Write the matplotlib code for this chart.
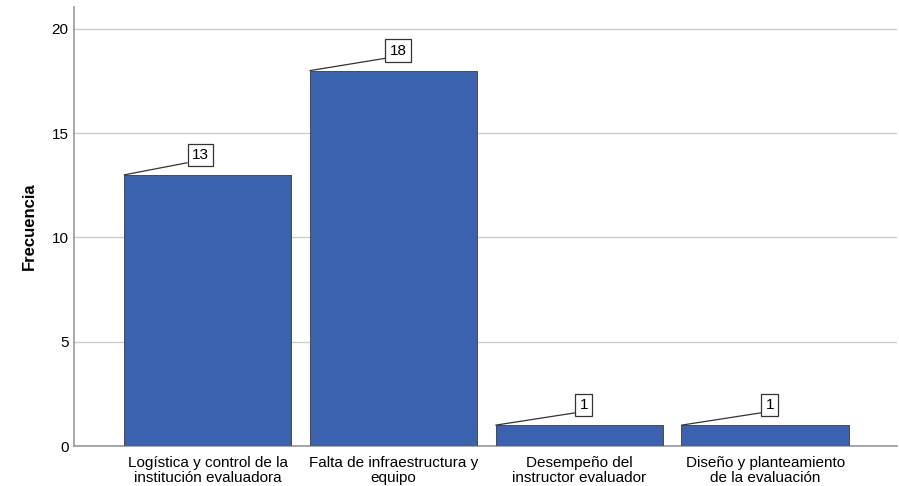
import numpy as np
import matplotlib.pyplot as plt

categorias = ['Logística y control de la\ninstitución evaluadora',
              'Falta de infraestructura y\nequipo',
              'Desempeño del\ninstructor evaluador',
              'Diseño y planteamiento\nde la evaluación']
frecuencias = [13, 18, 1, 1]
yticks = [0, 5, 10, 15, 20]

plt.rcParams['font.family'] = ['Liberation Sans', 'DejaVu Sans']

fig = plt.figure(figsize=(8.99, 4.86), dpi=100)
ax = fig.add_axes([74/899, 40/486, 823/899, 439/486])

x = np.arange(len(categorias))
ancho = 0.9
ax.bar(x, frecuencias, width=ancho, color='#3a62ae', edgecolor='#4a4a4a',
       linewidth=0.7, zorder=3)

# desplazamiento horizontal de cada etiqueta respecto al centro de la barra
desplaz = [-0.04, 0.025, 0.025, 0.025]
for i, v in enumerate(frecuencias):
    ax.annotate(str(v), xy=(i - ancho/2, v), xytext=(i + desplaz[i], v + 0.96),
                ha='center', va='center', fontsize=11, zorder=5,
                bbox=dict(boxstyle='square,pad=0.28', fc='white', ec='#333333', lw=0.9),
                arrowprops=dict(arrowstyle='-', color='#333333', lw=0.9,
                                relpos=(0, 0), shrinkA=0, shrinkB=0))

ax.set_xlim(-0.72, 3.71)
ax.set_ylim(0, 21.05)
ax.set_yticks(yticks)
ax.set_xticks(x)
ax.set_xticklabels(categorias, fontsize=11, linespacing=1.1)
ax.tick_params(axis='y', labelsize=11, length=0, pad=4)
ax.tick_params(axis='x', length=0, pad=7)
ax.grid(axis='y', color='#cccccc', linewidth=1, zorder=0)
for s in ['top', 'right']:
    ax.spines[s].set_visible(False)
for s in ['left', 'bottom']:
    ax.spines[s].set_color('#999999')
    ax.spines[s].set_linewidth(1.2)
ax.set_ylabel('Frecuencia', fontsize=12, fontweight='bold')
ax.yaxis.set_label_coords(-0.045, 0.5)

fig.savefig('out.png', dpi=100)
